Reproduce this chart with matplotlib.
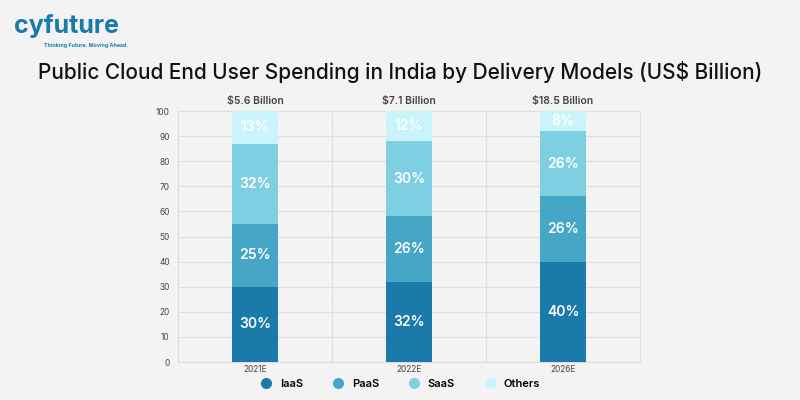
import numpy as np
import matplotlib.pyplot as plt
from matplotlib.lines import Line2D

years = ['2021E', '2022E', '2026E']
totals = ['$5.6 Billion', '$7.1 Billion', '$18.5 Billion']
segments = ['IaaS', 'PaaS', 'SaaS', 'Others']
iaas = [30, 32, 40]
paas = [25, 26, 26]
saas = [32, 30, 26]
others = [13, 12, 8]
colors = ['#1a7aaa', '#45a6c5', '#7fcfe3', '#c9f4fb']

plt.rcParams['font.family'] = ['Inter', 'DejaVu Sans']

fig = plt.figure(figsize=(8, 4), dpi=100)
fig.patch.set_facecolor('#f3f3f4')
ax = fig.add_axes([0.2225, 0.095, 0.5775, 0.6275])
ax.set_facecolor('none')

x = np.arange(len(years))
bottom = np.zeros(len(years))
for vals, color in zip([iaas, paas, saas, others], colors):
    ax.bar(x, vals, 0.3, bottom=bottom, color=color, zorder=3)
    for xi, b, v in zip(x, bottom, vals):
        ax.text(xi, b + v / 2, f'{v}%', ha='center', va='center', color='white',
                fontsize=10, fontweight='semibold', zorder=4)
    bottom += np.array(vals)

for xi, t in zip(x, totals):
    ax.text(xi, 102, t, ha='center', va='bottom', fontsize=7.5, fontweight='semibold', color='#444444')

ax.set_xlim(-0.5, 2.5)
ax.set_ylim(0, 100)
ax.set_yticks(range(0, 101, 10))
ax.set_xticks(x)
ax.set_xticklabels(years)
ax.tick_params(axis='both', length=0, labelsize=6, colors='#444444', pad=6)
ax.tick_params(axis='x', pad=2)
ax.grid(axis='y', color='#dddddd', linewidth=0.8, zorder=0)
ax.grid(axis='x', visible=False)
for xb in [0.5, 1.5]:
    ax.axvline(xb, color='#dddddd', linewidth=0.8, zorder=0)
for s in ax.spines.values():
    s.set_color('#dddddd')
    s.set_linewidth(0.8)

handles = [Line2D([0], [0], marker='o', color='none', markerfacecolor=c, markeredgecolor='none',
                  markersize=8) for c in colors]
fig.legend(handles, segments, loc='center', bbox_to_anchor=(0.5, 0.04), ncol=4, frameon=False,
           columnspacing=2.6, handletextpad=0.6, handlelength=1.2,
           prop={'weight': 'semibold', 'size': 8})

fig.text(0.5, 0.82, 'Public Cloud End User Spending in India by Delivery Models (US$ Billion)',
         ha='center', va='center', fontsize=15, fontweight='medium', color='#111111')

fig.text(0.018, 0.935, 'cyfuture', fontsize=18, fontweight='bold', color='#1a7aaa', va='center')
fig.text(0.055, 0.885, 'Thinking Future. Moving Ahead.', fontsize=3.8, fontweight='bold', color='#1a7aaa', va='center')

fig.savefig('out.png', dpi=100, facecolor=fig.get_facecolor())
